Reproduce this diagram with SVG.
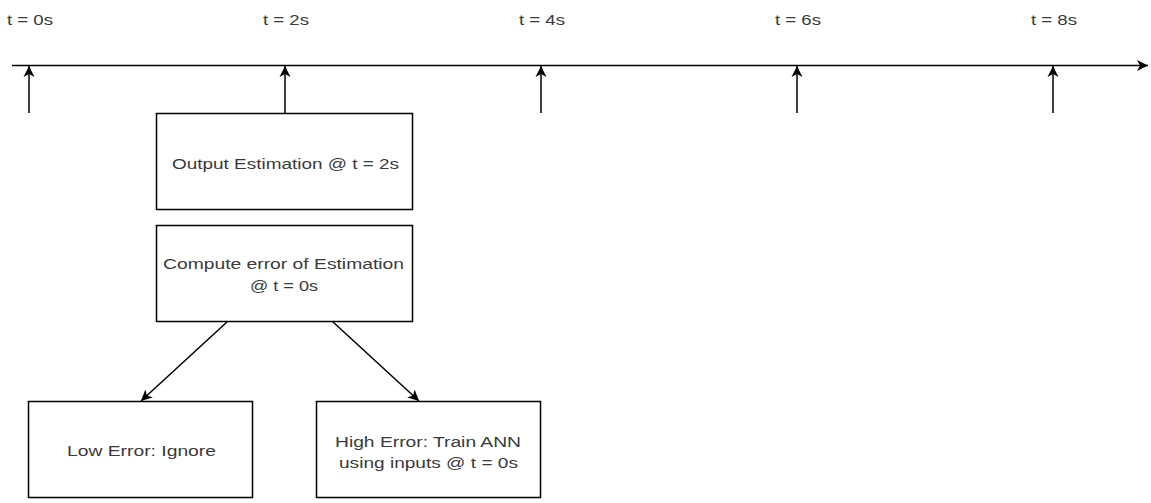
<svg xmlns="http://www.w3.org/2000/svg" width="1151" height="503" viewBox="0 0 1151 503">
  <style>
    .box { fill: #ffffff; stroke: #000000; stroke-width: 1.5; }
    .edge { fill: none; stroke: #000000; stroke-width: 1.5; }
    .lbl { font-family: "Liberation Sans", Arial, Helvetica, sans-serif; font-size: 15.5px; fill: #3a3a3a; }
  </style>
  <defs>
    <marker id="arrow" markerUnits="userSpaceOnUse" viewBox="-11 -6 12 12" refX="0" refY="0" markerWidth="12" markerHeight="12" orient="auto">
      <path d="M0,0 L-11,-5.5 L-8,0 L-11,5.5 Z" fill="#000000"/>
    </marker>
  </defs>
  <rect width="1151" height="503" fill="#ffffff"/>

  <!-- time labels -->
  <g id="time-labels">
    <text class="lbl" x="7" y="25" textLength="46" lengthAdjust="spacingAndGlyphs">t = 0s</text>
    <text class="lbl" x="263" y="25" textLength="46" lengthAdjust="spacingAndGlyphs">t = 2s</text>
    <text class="lbl" x="519" y="25" textLength="46" lengthAdjust="spacingAndGlyphs">t = 4s</text>
    <text class="lbl" x="775" y="25" textLength="46" lengthAdjust="spacingAndGlyphs">t = 6s</text>
    <text class="lbl" x="1031" y="25" textLength="46" lengthAdjust="spacingAndGlyphs">t = 8s</text>
  </g>

  <!-- nodes -->
  <g id="output-estimation">
    <rect class="box" x="156.5" y="113.5" width="256" height="96"/>
    <text class="lbl" x="172" y="169" textLength="227" lengthAdjust="spacingAndGlyphs">Output Estimation @ t = 2s</text>
  </g>
  <g id="compute-error">
    <rect class="box" x="156.5" y="225.5" width="256" height="96"/>
    <text class="lbl" x="163" y="269" textLength="241" lengthAdjust="spacingAndGlyphs">Compute error of Estimation</text>
    <text class="lbl" x="250" y="291" textLength="68" lengthAdjust="spacingAndGlyphs">@ t = 0s</text>
  </g>
  <g id="low-error">
    <rect class="box" x="28.5" y="401.5" width="224" height="96"/>
    <text class="lbl" x="67" y="456" textLength="149" lengthAdjust="spacingAndGlyphs">Low Error: Ignore</text>
  </g>
  <g id="high-error">
    <rect class="box" x="316.5" y="401.5" width="224" height="96"/>
    <text class="lbl" x="335" y="447" textLength="186" lengthAdjust="spacingAndGlyphs">High Error: Train ANN</text>
    <text class="lbl" x="339" y="468" textLength="179" lengthAdjust="spacingAndGlyphs">using inputs @ t = 0s</text>
  </g>

  <!-- connectors -->
  <g id="connectors">
    <line class="edge" x1="12" y1="65.5" x2="1148" y2="65.5" marker-end="url(#arrow)"/>
    <line class="edge" x1="29" y1="113" x2="29" y2="66" marker-end="url(#arrow)"/>
    <line class="edge" x1="285" y1="113" x2="285" y2="66" marker-end="url(#arrow)"/>
    <line class="edge" x1="541" y1="113" x2="541" y2="66" marker-end="url(#arrow)"/>
    <line class="edge" x1="797" y1="113" x2="797" y2="66" marker-end="url(#arrow)"/>
    <line class="edge" x1="1053" y1="113" x2="1053" y2="66" marker-end="url(#arrow)"/>
    <line class="edge" x1="227" y1="322" x2="141" y2="401" marker-end="url(#arrow)"/>
    <line class="edge" x1="333" y1="322" x2="419" y2="401" marker-end="url(#arrow)"/>
  </g>
</svg>
